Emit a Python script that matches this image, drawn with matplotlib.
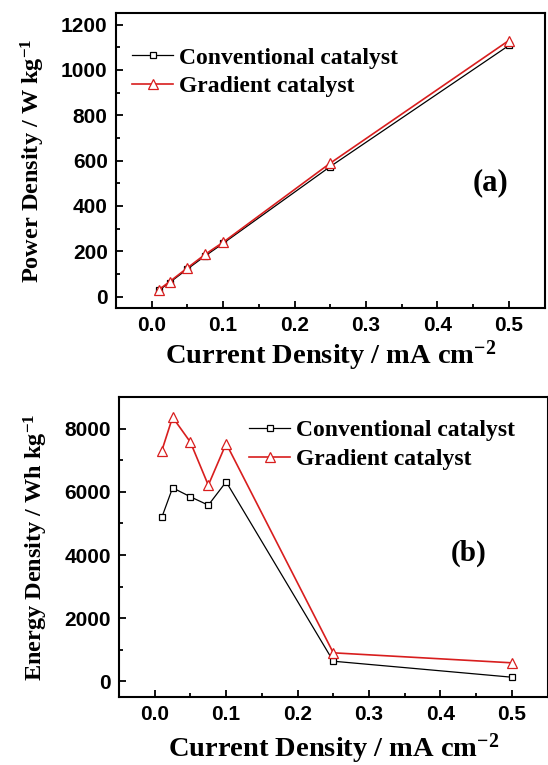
import matplotlib
matplotlib.use("Agg")
import matplotlib.pyplot as plt
from matplotlib.ticker import MultipleLocator, FormatStrFormatter

# Current densities (mA cm^-2) shared by both panels
current = [0.01, 0.025, 0.05, 0.075, 0.1, 0.25, 0.5]

# Power density (W kg^-1)
power_conv = [28, 62, 122, 180, 235, 574, 1108]
power_grad = [31, 66, 127, 187, 240, 589, 1130]

# Energy density (Wh kg^-1)
energy_conv = [5200, 6130, 5845, 5580, 6320, 634, 127]
energy_grad = [7312, 8368, 7575, 6213, 7534, 900, 583]

series_names = ["Conventional catalyst", "Gradient catalyst"]

RED = "#d81e1e"
SERIF = "Liberation Serif"
SANS = "Liberation Sans"

plt.rcParams["mathtext.fontset"] = "custom"
plt.rcParams["mathtext.rm"] = "Liberation Serif:bold"
plt.rcParams["mathtext.default"] = "rm"


def style_axes(ax, ymajor, yminor):
    for sp in ax.spines.values():
        sp.set_linewidth(1.5)
    ax.xaxis.set_major_locator(MultipleLocator(0.1))
    ax.xaxis.set_minor_locator(MultipleLocator(0.05))
    ax.xaxis.set_major_formatter(FormatStrFormatter("%.1f"))
    ax.yaxis.set_major_locator(MultipleLocator(ymajor))
    ax.yaxis.set_minor_locator(MultipleLocator(yminor))
    ax.tick_params(which="both", direction="in", top=False, right=False, width=1.3)
    ax.tick_params(which="major", length=5)
    ax.tick_params(which="minor", length=3)
    ax.tick_params(axis="x", which="major", pad=6)
    ax.tick_params(axis="y", which="major", pad=6)
    for lab in ax.get_xticklabels() + ax.get_yticklabels():
        lab.set_fontfamily(SANS)
        lab.set_fontweight("bold")
        lab.set_fontsize(15)


def draw_panel(ax, y_conv, y_grad):
    ax.plot(current, y_conv, color="black", lw=0.9, marker="s", ms=5,
            mfc="white", mec="black", mew=0.9, label=series_names[0])
    ax.plot(current, y_grad, color=RED, lw=1.2, marker="^", ms=7.5,
            mfc="white", mec=RED, mew=0.9, label=series_names[1])


def add_legend(ax, anchor):
    ax.legend(loc="upper left", bbox_to_anchor=anchor, frameon=False,
              prop={"family": SERIF, "weight": "bold", "size": 17},
              handlelength=1.75, handletextpad=0.25, labelspacing=0.3,
              borderpad=0, borderaxespad=0)


fig = plt.figure(figsize=(5.48, 7.65), dpi=100)

# (a) power density
ax1 = fig.add_axes([0.2117, 0.5974, 0.782, 0.3852])
draw_panel(ax1, power_conv, power_grad)
ax1.set_xlim(-0.05, 0.55)
ax1.set_ylim(-50, 1250)
style_axes(ax1, 200, 100)
ax1.set_xlabel(r"Current Density / mA cm$^{-2}$", fontfamily=SERIF,
               fontweight="bold", fontsize=20.5, labelpad=2)
ax1.set_ylabel(r"Power Density / W kg$^{-1}$", fontfamily=SERIF,
               fontweight="bold", fontsize=17.5, labelpad=10)
add_legend(ax1, (0.037, 0.885))
ax1.text(0.875, 0.424, "(a)", transform=ax1.transAxes, ha="center", va="center",
         fontfamily=SERIF, fontweight="bold", fontsize=22)

# (b) energy density
ax2 = fig.add_axes([0.2172, 0.0889, 0.782, 0.3918])
draw_panel(ax2, energy_conv, energy_grad)
ax2.set_xlim(-0.05, 0.55)
ax2.set_ylim(-500, 9000)
style_axes(ax2, 2000, 1000)
ax2.set_xlabel(r"Current Density / mA cm$^{-2}$", fontfamily=SERIF,
               fontweight="bold", fontsize=20.5, labelpad=5)
ax2.set_ylabel(r"Energy Density / Wh kg$^{-1}$", fontfamily=SERIF,
               fontweight="bold", fontsize=17.5, labelpad=10)
add_legend(ax2, (0.303, 0.925))
ax2.text(0.815, 0.48, "(b)", transform=ax2.transAxes, ha="center", va="center",
         fontfamily=SERIF, fontweight="bold", fontsize=21)

fig.savefig("out.png", dpi=100)
